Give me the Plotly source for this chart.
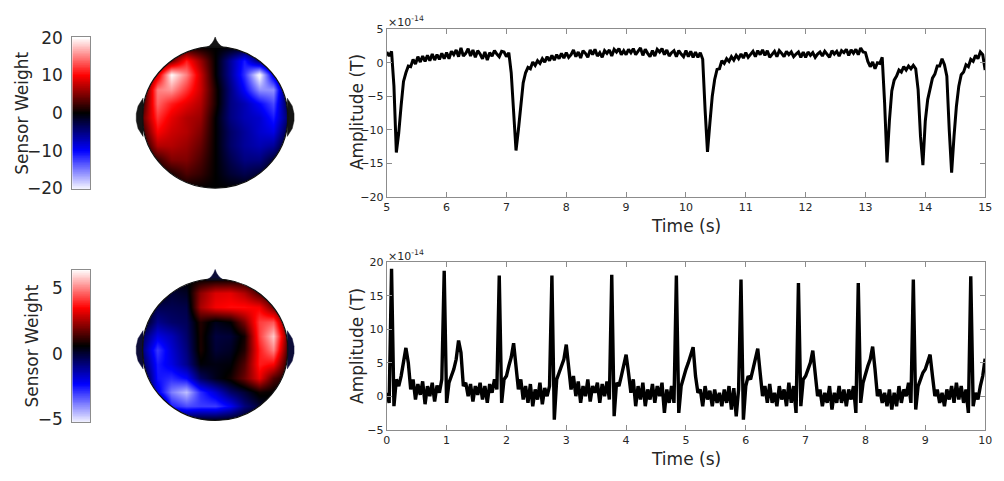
import numpy as np
import plotly.graph_objects as go

W, H = 1004, 481

# ---------------- data ----------------
grid_xy = [-1.0, -0.8, -0.6, -0.4, -0.2, 0.0, 0.2, 0.4, 0.6, 0.8, 1.0]

# top topography (rows from y=-1 (bottom) to y=+1 (top)), columns x=-1..1
topo1 = [
    [0, 0, 0, 0, 0, 0, 0, 0, 0, 0, 0],
    [0, 0, 1, 3, 2, 0, -2, -3, -2, 0, 0],
    [0, 2, 5, 5, 3, 0, -3, -5, -5, -2, 0],
    [0, 7, 7, 6, 4, 0, -4, -6, -7, -6, 0],
    [2, 10, 8, 7, 5, 0, -4, -6, -8, -9, -2],
    [4, 12, 9, 7, 6, 0, -5, -7, -8, -11, -4],
    [2, 14, 11, 9, 7, 1, -5, -7, -10, -13, -2],
    [0, 15, 16, 12, 8, 1, -5, -10, -16, -16, 0],
    [0, 8, 20, 15, 8, 0, -6, -12, -21, -8, 0],
    [0, 0, 4, 11, 6, 0, -6, -11, -4, 0, 0],
    [0, 0, 0, 0, 0, 0, 0, 0, 0, 0, 0],
]
topo2 = [
    [0.6, 0.6, 0.6, 0.6, 0.6, 0.6, 0.6, 0.6, 0.6, 0.6, 0.6],
    [0.6, 0.6, -2.6, -3.2, -3.0, -3.0, -2.2, -0.8, 0.0, 0.6, 0.6],
    [0.6, -2.0, -3.8, -4.6, -2.8, -1.8, -0.6, 0.0, 0.8, 0.6, 0.6],
    [0.6, -2.5, -2.8, -2.3, -0.5, 0.3, 0.8, 1.8, 3.3, 1.5, 0.6],
    [-0.3, -2.6, -2.0, -1.0, 0.5, 0.4, 0.5, 1.5, 3.8, 3.5, 0.8],
    [-0.8, -3.0, -1.8, -0.8, 0.9, 0.0, 0.2, 1.0, 3.8, 5.0, 1.2],
    [-0.5, -2.0, -1.5, -0.6, 0.9, -0.1, 0.0, 0.8, 4.2, 5.8, 1.5],
    [0.6, -1.0, -0.6, -0.4, 1.0, 0.3, 0.6, 2.0, 4.2, 4.5, 1.0],
    [0.6, -0.3, -0.3, -0.2, 2.5, 3.4, 3.6, 3.6, 3.4, 1.8, 0.6],
    [0.6, 0.6, 0.0, 0.2, 2.2, 3.1, 3.2, 2.6, 1.4, 0.6, 0.6],
    [0.6, 0.6, 0.6, 0.6, 0.6, 0.6, 0.6, 0.6, 0.6, 0.6, 0.6],
]
cbar1_range = [-20.25, 20.3]
cbar1_ticks = [-20, -10, 0, 10, 20]
topo1_lim = [-20, 20]
cbar2_range = [-5.2, 6.4]
cbar2_ticks = [-5, 0, 5]
topo2_lim = [-5.2, 6.4]

# top time series: 5.00 .. 15.00 s, step 0.04 s (x1e-14 T)
top_t0, dt = 5.0, 0.04
top_v = [
    1.6, 1.0, 1.7, -3.5, -13.4, -10.5, -6.4, -2.8, -1.5, -0.5, -0.6, 0.5, -0.2, 0.9, 0.1, 1.0, 0.2, 1.1, 0.3, 1.3, 0.4, 1.2, 0.5, 1.4, 0.6,
    1.5, 0.6, 1.7, 1.2, 1.9, 0.9, 2.2, 1.0, 1.4, 2.1, 1.0, 1.9, 0.8, 1.8, 1.3, 0.6, 1.6, 0.4, 1.5, 1.0, 1.8, 1.3, 0.9, 1.7, 1.6,
    0.9, 1.5, -1.5, -7.5, -13.1, -10.0, -6.8, -3.0, -1.5, -0.7, -0.9, 0.1, -0.4, 0.3, -0.1, 0.6, 0.1, 0.9, 0.3, 1.1, 0.4, 1.2, 0.6, 1.4, 0.7,
    1.5, 0.8, 1.2, 1.9, 0.9, 1.6, 0.7, 1.8, 1.4, 0.8, 1.9, 1.2, 2.0, 1.0, 1.5, 0.8, 1.8, 1.4, 1.9, 1.0, 2.0, 1.6, 2.1, 1.2, 1.8,
    1.2, 2.0, 1.5, 2.1, 1.2, 1.7, 2.2, 1.1, 2.0, 1.4, 0.9, 1.8, 1.0, 2.0, 1.6, 2.1, 1.2, 1.9, 1.0, 1.5, 1.8, 0.9, 1.8, 1.3, 0.9,
    1.8, 0.9, 1.7, 0.8, 1.6, 0.8, 1.5, 0.5, -7.0, -13.3, -9.0, -5.0, -2.5, -1.0, -0.9, 0.3, -0.1, 0.6, 0.2, 0.9, 0.4, 1.1, 0.6, 1.3, 0.7,
    1.5, 0.8, 1.3, 1.7, 0.9, 1.8, 1.2, 1.9, 1.1, 1.8, 0.8, 1.3, 1.7, 0.9, 1.8, 1.4, 0.9, 1.7, 1.2, 1.6, 0.9, 1.3, 1.6, 0.8, 1.6,
    0.8, 1.6, 1.1, 1.5, 0.8, 1.3, 1.6, 1.0, 1.7, 1.2, 0.8, 1.8, 1.3, 1.7, 1.0, 1.8, 1.5, 2.0, 1.1, 1.9, 1.4, 2.0, 1.2, 2.2, 1.6,
    1.5, 0.2, -0.6, 0.1, -0.9, 0.0, -0.1, 0.8, -6.0, -14.9, -8.7, -4.2, -2.6, -2.0, -1.1, -1.4, -0.6, -1.1, -0.5, -0.9, -0.4, -0.9, -4.0, -11.0, -15.3,
    -8.7, -5.5, -3.9, -2.3, -1.7, -0.5, -0.5, 0.6, -0.3, -2.0, -10.0, -16.4, -11.0, -6.5, -3.5, -1.8, -1.4, -0.3, -0.6, 0.5, 0.2, 1.1, 0.6, 1.6, 1.2,
    -1.1,
]

# bottom time series: 0.00 .. 10.00 s, step 0.04 s (x1e-14 T)
bot_t0 = 0.0
bot_v = [
    0.5, -1.0, 19.0, -1.5, 2.5, 1.5, 3.0, 5.5, 7.2, 5.0, 1.0, 2.5, -0.5, 1.8, 0.2, 2.2, -1.2, 1.5, 0.0, 2.0, -0.8, 1.6, 0.5, 2.5, 18.7,
    -1.0, 2.0, 3.0, 4.0, 5.5, 8.3, 6.5, 1.5, 2.0, 0.0, 1.8, -0.8, 1.5, 0.2, 2.0, -0.5, 1.5, -1.0, 1.8, 0.5, 2.5, 1.0, 18.0, -1.0, 2.5,
    3.0, 4.5, 5.8, 7.9, 4.0, 1.0, 2.5, -0.5, 1.5, -1.0, 1.8, -1.5, 1.0, -0.5, 2.0, -1.2, 1.2, 0.0, 1.5, 18.0, -3.5, 2.5, 3.5, 4.5, 5.5,
    7.7, 4.5, 1.0, 3.0, 0.0, 2.2, -1.0, 1.5, 0.0, 2.5, -0.8, 1.5, 0.5, 2.0, -1.0, 1.8, 0.0, 2.2, -0.5, 18.1, -3.0, 2.0, 1.5, 3.0, 4.5,
    6.2, 3.5, 0.5, 2.5, -1.5, 1.5, -0.5, 2.0, -1.5, 1.0, -0.5, 1.8, -1.0, 1.5, 0.0, 2.0, -2.5, 1.0, -1.0, 1.5, -1.0, 18.0, -2.5, 1.5, 3.0,
    4.0, 5.0, 6.0, 7.3, 3.0, 0.5, 1.0, -1.5, 1.5, -0.5, 0.8, -1.5, 1.0, -1.0, 0.5, -1.5, 1.0, -1.0, 1.5, -2.0, 1.2, -3.0, 1.0, 17.4, -3.5,
    1.5, 3.0, 2.5, 4.0, 5.5, 7.1, 3.5, 0.0, 1.5, -1.0, 1.8, -1.0, 0.5, -1.5, 1.5, -0.5, 1.0, -1.5, 2.0, -1.0, 1.5, -2.5, 16.9, -1.5, 2.5,
    3.0, 4.0, 5.0, 6.8, 3.5, 0.0, 1.0, -1.5, 0.5, -1.0, 1.5, -2.0, 0.5, -1.0, 1.5, -1.0, 1.0, -1.5, 1.0, -0.5, 1.5, -2.5, 16.9, -1.0, 2.0,
    3.5, 4.5, 5.5, 7.4, 4.0, 0.0, 1.0, -1.0, 0.5, -1.5, 1.0, -2.0, 0.5, -1.5, 1.5, -1.0, 1.0, 0.0, 2.0, -1.0, 17.4, -2.0, 1.5, 2.5, 3.5,
    4.0, 5.0, 6.2, 3.0, 0.0, 1.0, -1.0, 0.5, -1.5, 1.0, -0.5, 1.5, -1.0, 2.0, -0.5, 1.5, -1.0, 1.0, -2.5, 17.9, -1.5, 0.5, -0.5, 1.5, 3.0,
    5.6,
]

top_xticks = [5, 6, 7, 8, 9, 10, 11, 12, 13, 14, 15]
top_yticks = [-20, -15, -10, -5, 0, 5]
bot_xticks = [0, 1, 2, 3, 4, 5, 6, 7, 8, 9, 10]
bot_yticks = [-5, 0, 5, 10, 15, 20]

# ---------------- helpers ----------------
def px(x):
    return x / W

def py(y):
    return 1 - y / H

cscale = [[0.0, "#f2f2ff"], [0.25, "#0000ff"], [0.5, "#000000"],
          [0.75, "#ff0000"], [1.0, "#ffffff"]]
FONT = "DejaVu Sans"
TXT = "#262626"
AXC = "#8c8c8c"

top_t = np.round(top_t0 + dt * np.arange(len(top_v)), 3)
bot_t = np.round(bot_t0 + dt * np.arange(len(bot_v)), 3)

fig = go.Figure()

# colorbar ramps
for i, (rng, lim) in enumerate([(cbar1_range, topo1_lim), (cbar2_range, topo2_lim)]):
    ramp = np.linspace(rng[0], rng[1], 240)
    ax = 1 if i == 0 else 4
    fig.add_trace(go.Heatmap(z=[[v] for v in ramp], x=[0], y=ramp,
                             colorscale=cscale, zmin=lim[0], zmax=lim[1],
                             showscale=False, hoverinfo="skip",
                             xaxis=f"x{ax}", yaxis=f"y{ax}"))

# topographies
for topo, lim, ax in [(topo1, topo1_lim, 2), (topo2, topo2_lim, 5)]:
    fig.add_trace(go.Heatmap(z=topo, x=grid_xy, y=grid_xy, colorscale=cscale,
                             zmin=lim[0], zmax=lim[1], zsmooth="best",
                             showscale=False, hoverinfo="skip",
                             xaxis=f"x{ax}", yaxis=f"y{ax}"))

# time series
fig.add_trace(go.Scatter(x=top_t, y=top_v, mode="lines",
                         line=dict(color="black", width=3),
                         xaxis="x3", yaxis="y3", showlegend=False))
fig.add_trace(go.Scatter(x=bot_t, y=bot_v, mode="lines",
                         line=dict(color="black", width=3.4),
                         xaxis="x6", yaxis="y6", showlegend=False))

layout = dict(width=W, height=H, margin=dict(l=0, r=0, t=0, b=0),
              paper_bgcolor="white", plot_bgcolor="white", showlegend=False,
              font=dict(family=FONT, color=TXT))

# colorbar axes
cb_boxes = [(1, 29, 187, cbar1_range, cbar1_ticks), (4, 271, 429, cbar2_range, cbar2_ticks)]
for ax, y0, y1, rng, ticks in cb_boxes:
    layout[f"xaxis{ax}"] = dict(domain=[px(69), px(87)], range=[-0.5, 0.5], anchor=f"y{ax}",
                                showticklabels=False, ticks="", showgrid=False, zeroline=False,
                                showline=True, mirror=True, linecolor=AXC, linewidth=1)
    layout[f"yaxis{ax}"] = dict(domain=[py(y1), py(y0)], range=rng, anchor=f"x{ax}",
                                tickvals=ticks, ticks="", showgrid=False, zeroline=False,
                                showline=True, mirror=True, linecolor=AXC, linewidth=1,
                                tickfont=dict(size=17, color=TXT, family=FONT),
                                ticklabelstandoff=5)

# head axes
R = 73.5
for ax, cy in [(2, 112.5), (5, 354.0)]:
    cx = 213.5
    half = 1.25 * R
    layout[f"xaxis{ax}"] = dict(domain=[px(cx - half), px(cx + half)], range=[-1.25, 1.25],
                                anchor=f"y{ax}", visible=False)
    layout[f"yaxis{ax}"] = dict(domain=[py(cy + half), py(cy - half)], range=[-1.25, 1.25],
                                anchor=f"x{ax}", visible=False)

# time-series axes
for ax, y0, y1, xr, xt, yr, yt in [(3, 21, 195, [5, 15], top_xticks, [-20, 5], top_yticks),
                                   (6, 263, 437, [0, 10], bot_xticks, [-5, 20], bot_yticks)]:
    common = dict(showline=True, mirror="ticks", linecolor=AXC, linewidth=1,
                  ticks="inside", ticklen=5, tickcolor=AXC, showgrid=False, zeroline=False,
                  tickfont=dict(size=11, color=TXT, family=FONT))
    layout[f"xaxis{ax}"] = dict(domain=[px(387), px(992)], range=xr, tickvals=xt,
                                anchor=f"y{ax}", **common)
    layout[f"yaxis{ax}"] = dict(domain=[py(y1), py(y0)], range=yr, tickvals=yt,
                                anchor=f"x{ax}", **common)

# head shapes
theta = np.linspace(0, 2 * np.pi, 241)
circ = " ".join(f"L {np.cos(a):.4f},{np.sin(a):.4f}" for a in theta[1:])
mask_path = ("M -1.4,-1.4 L 1.4,-1.4 L 1.4,1.4 L -1.4,1.4 Z "
             f"M 1,0 {circ} Z")
nose = "M -0.12,0.985 Q -0.03,1.03 0,1.135 Q 0.03,1.03 0.12,0.985 Z"
earL = "M -0.992,0.27 L -1.06,0.16 L -1.085,0.05 L -1.085,-0.05 L -1.06,-0.16 L -0.992,-0.27 Z"
earR = "M 0.992,0.27 L 1.06,0.16 L 1.085,0.05 L 1.085,-0.05 L 1.06,-0.16 L 0.992,-0.27 Z"

shapes = []
for ax, dark in [(2, "#141414"), (5, "#0c0c38")]:
    ref = dict(xref=f"x{ax}", yref=f"y{ax}")
    shapes.append(dict(type="path", path=mask_path, fillcolor="white", fillrule="evenodd",
                       line=dict(width=0), layer="above", **ref))
    for p in (nose, earL, earR):
        shapes.append(dict(type="path", path=p, fillcolor=dark,
                           line=dict(width=0.5, color=dark), layer="above", **ref))
    shapes.append(dict(type="circle", x0=-1, y0=-1, x1=1, y1=1,
                       line=dict(color="#111111", width=1.2), layer="above", **ref))
layout["shapes"] = shapes

ann = []
def text(x, y, s, size, angle=0, xanchor="center", yanchor="middle"):
    ann.append(dict(x=px(x), y=py(y), xref="paper", yref="paper", text=s, showarrow=False,
                    textangle=angle, xanchor=xanchor, yanchor=yanchor,
                    font=dict(size=size, color=TXT, family=FONT)))

text(18, 108, "Sensor Weight", 17, -90)
text(28, 350, "Sensor Weight", 17, -90)
text(357, 107, "Amplitude (T)", 17, -90)
text(357, 350, "Amplitude (T)", 17, -90)
text(690, 225, "Time (s)", 17)
text(690, 467, "Time (s)", 17)
text(386, 13, "×10<sup>-14</sup>", 11, xanchor="left")
text(386, 256, "×10<sup>-14</sup>", 11, xanchor="left")
layout["annotations"] = ann

fig.update_layout(**layout)
fig.write_html("out.html")
